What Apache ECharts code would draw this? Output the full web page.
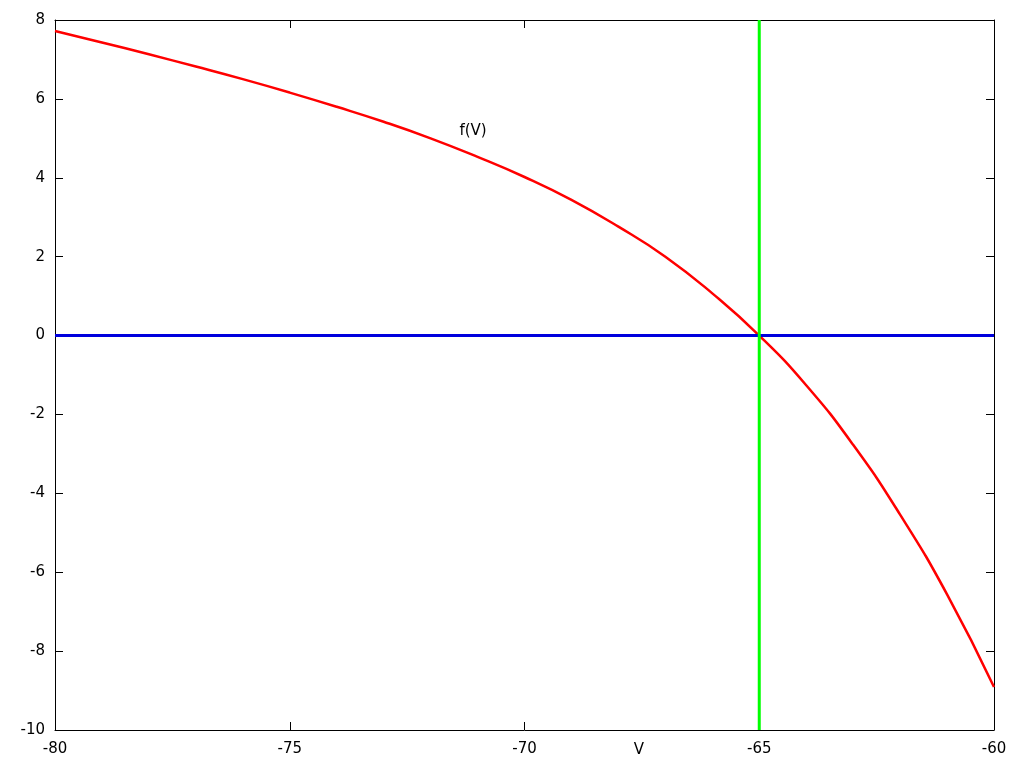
<!DOCTYPE html>
<html>
<head>
<meta charset="utf-8">
<script src="https://cdn.jsdelivr.net/npm/echarts@6/dist/echarts.min.js"></script>
<style>html,body{margin:0;padding:0;background:#fff}#c{width:1024px;height:768px}</style>
</head>
<body>
<div id="c"></div>
<script>
const vValues = [-80,-79,-78,-77,-76,-75,-74,-73,-72,-71,-70,-69,-68,-67,-66,-65,-64,-63,-62,-61,-60];
const fValues = [7.72,7.43,7.13,6.82,6.50,6.16,5.80,5.42,5.00,4.53,4.02,3.44,2.76,2.00,1.07,0,-1.26,-2.77,-4.54,-6.56,-8.91];
const zeroLineV = [-80,-60];
const zeroLineF = [0,0];
const restV = [-65,-65];
const restF = [-10,8];
const xTickLabels = ['-80','-75','-70','-65','-60'];
const yTickLabels = ['-10','-8','-6','-4','-2','0','2','4','6','8'];

const zip = (a,b) => a.map((v,i)=>[v,b[i]]);
const font = 'DejaVu Sans';
const chart = echarts.init(document.getElementById('c'), null, {renderer:'canvas'});
const axisCommon = () => ({
  axisLine:{show:true,onZero:false,lineStyle:{color:'#000',width:1}},
  axisTick:{show:true,inside:true,length:8,lineStyle:{color:'#000',width:1}},
  splitLine:{show:false}
});
chart.setOption({
  animation:false,
  backgroundColor:'#fff',
  grid:{left:55,right:30,top:20,bottom:38,containLabel:false},
  xAxis:[
    Object.assign({type:'value',min:-80,max:-60,interval:5,position:'bottom',
      axisLabel:{color:'#000',fontFamily:font,fontSize:15,margin:12,
        formatter:v=>{const i=Math.round((v+80)/5);return xTickLabels[i]!==undefined?xTickLabels[i]:'';}}},axisCommon()),
    Object.assign({type:'value',min:-80,max:-60,interval:5,position:'top',axisLabel:{show:false}},axisCommon())
  ],
  yAxis:[
    Object.assign({type:'value',min:-10,max:8,interval:2,position:'left',
      axisLabel:{color:'#000',fontFamily:font,fontSize:15,margin:10,padding:[3,0,0,0],
        formatter:v=>{const i=Math.round((v+10)/2);return yTickLabels[i]!==undefined?yTickLabels[i]:'';}}},axisCommon()),
    Object.assign({type:'value',min:-10,max:8,interval:2,position:'right',axisLabel:{show:false}},axisCommon())
  ],
  series:[
    {type:'line',data:zip(vValues,fValues),smooth:true,showSymbol:false,lineStyle:{color:'#ff0000',width:2.5},z:3},
    {type:'line',data:zip(zeroLineV,zeroLineF),showSymbol:false,lineStyle:{color:'#0000dd',width:3},z:4},
    {type:'line',data:zip(restV,restF),showSymbol:false,lineStyle:{color:'#00ff00',width:3},z:5}
  ],
  graphic:[
    {type:'text',x:639,y:750,style:{text:'V',fill:'#000',font:'15px '+font,textAlign:'center',textVerticalAlign:'middle'}},
    {type:'text',x:473,y:131,style:{text:'f(V)',fill:'#000',font:'15px '+font,textAlign:'center',textVerticalAlign:'middle'}}
  ]
});
</script>
</body>
</html>
